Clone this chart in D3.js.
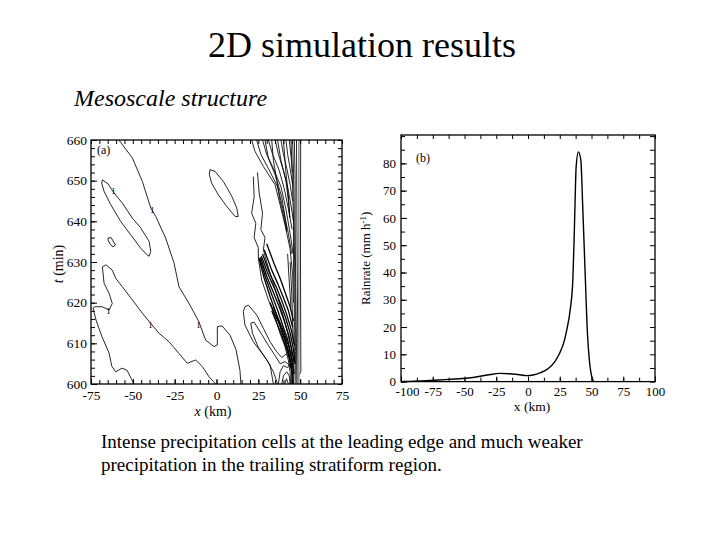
<!DOCTYPE html>
<html><head><meta charset="utf-8">
<script src="https://cdn.jsdelivr.net/npm/d3@7"></script>
<style>body{margin:0;background:#fff} svg{display:block}</style>
</head><body>
<script>
// ---------- text ----------
const titleText = "2D simulation results";
const subtitleText = "Mesoscale structure";
const captionLines = ["Intense precipitation cells at the leading edge and much weaker",
                      "precipitation in the trailing stratiform region."];

// ---------- panel (a): contour lines of rain, x (km) vs t (min) ----------
const xTicksA = [-75, -50, -25, 0, 25, 50, 75];
const tTicksA = [600, 610, 620, 630, 640, 650, 660];
const contourA = [[-58.3,660],[-50.3,655.6],[-44.3,649.8],[-39.3,643.3],[-36.3,641.2],[-30.4,635.9],[-25.4,629.8],[-22.4,623.9],[-16.4,619.8],[-10.5,615.3],[-6.5,610.8],[-1.5,609.2],[0.5,609.6],[0.5,614.1],[3.3,614.3],[8.1,612.0],[11.7,608.4],[14.0,603.4],[14.6,600]];
const contourB = [[-49.3,600],[-53.5,603.4],[-56.5,603.9],[-60.2,603.0],[-62.5,604.3],[-64.2,607.6],[-68.4,611.6],[-72.0,615.7],[-73.8,618.7],[-72.6,619.0],[-68.4,619.0],[-64.2,618.2],[-62.3,619.8],[-64.2,622.3],[-67.2,624.8],[-68.2,628.8],[-66.0,629.3],[-62.3,628.0],[-60.2,626.0],[-56.3,623.9],[-50.3,620.7],[-44.3,617.4],[-39.3,614.9],[-34.4,612.5],[-28.4,610.4],[-22.4,607.5],[-17.5,605.1],[-12.4,605.9],[-8.5,604.3],[-4.5,601.8],[-0.5,600]];
const contourD = [[-68.2,650.2],[-64.8,649.2],[-61.3,647.0],[-56.3,644.5],[-50.3,640.8],[-45.3,638.4],[-40.3,635.1],[-39.3,632.6],[-40.3,631.4],[-42.1,632.0],[-45.3,633.4],[-51.3,636.7],[-57.3,640.0],[-63.2,644.1],[-67.2,647.4],[-68.6,649.4],[-68.2,650.2]];
const contourE = [[-64.8,635.9],[-63.0,636.0],[-60.4,634.2],[-61.9,633.7],[-63.6,634.4],[-64.8,635.4],[-64.8,635.9]];
const contourF = [[-3.9,652.7],[-0.9,652.3],[4.1,649.8],[9.1,646.2],[12.1,643.3],[13.0,641.2],[11.1,641.2],[6.1,643.7],[1.1,646.5],[-2.9,649.4],[-4.3,651.5],[-3.9,652.7]];
const contourG = [[34,600],[32,604.7],[28,607.1],[22,610.4],[17,614.5],[16,617.8],[17,619],[19,619.4],[24,617],[28,613.7],[32,610.4],[36,607.9],[39,606.5],[42,607.5],[44.5,606]];
const contourG2 = [[36.5,600],[34,603],[30,606],[25,609],[21.5,612.5],[20.5,615],[22.5,615.2],[27,612.2],[31,609.5],[35,607],[38,605],[41,605.5],[44,604.5]];
const frontLines = [
  [[47.8,660],[48,645],[48.2,630],[48.5,615],[48.8,600]],
  [[46.5,660],[47,650],[47,640],[47.3,625],[47.8,610],[48,600]],
  [[45.5,660],[46,652],[46.3,645],[46.5,635],[47,620],[47.2,608],[47,600]],
  [[44.5,660],[45,655],[45.5,648],[46,640],[46,630],[46.5,618],[46.5,608],[46,600]],
  [[50.3,660],[50.2,630],[50.4,603],[49,602],[49,600]]
];
const frontGray = [[49.2,660],[49.2,600]];
const fanLines = [
  [[21,660],[23,657.2],[28,653.5],[35,649],[38,644.1],[40.9,639.2],[43.9,633.4],[45.5,627],[46,620]],
  [[24,660],[26.5,656.5],[31,653],[36.5,648.5],[39.5,643.5],[42.5,638],[45,632]],
  [[27.5,660],[30,656.5],[34,653],[38.5,648.5],[41.5,643],[44,637],[45.8,632]],
  [[31,660],[33.5,656.5],[37.5,652.5],[40.5,648],[43,643],[45.2,638]],
  [[35,660],[37,656.5],[40,652.5],[42.5,648.5],[44.5,644],[46,640]],
  [[38.5,660],[40,656.5],[42,653],[44,649],[45.5,645]],
  [[41.5,660],[42.5,656.5],[44,653],[45.5,649]],
  [[43.5,660],[44.5,656],[45.5,652]],
  [[29,660],[31,655.5],[35,651.5],[39,646],[41,641],[42,637.5],[40.5,640.5],[38,645],[36,650],[34,655],[33,660]],
  [[36.5,660],[38.5,655],[41.5,650],[43,645],[43.8,641],[43,646],[41.5,652],[40,660]],
  [[44,630],[45,622],[45.5,615],[46,610]],
  [[42.5,632],[43.5,625],[44.5,619]]
];
const zigLines = [
  [[22,651],[22.5,646],[21,642],[23.5,639.5],[22.5,636],[25,633.5],[25,631],[27,625.6],[31,620.7],[35,616.5],[38,612.4],[40.9,609.2],[42.9,605.9],[44,603],[44.2,600]],
  [[24.5,652],[25.5,647],[27.5,642],[26.5,638],[29,636],[28,633],[30,630],[33,626],[36,622],[39,618],[42,613.5],[44.5,609],[45.5,605],[45.8,600]]
];
const streakLines = [
  [[25.3,631],[28.5,626],[32,621.5],[35.5,617.5],[38.5,613.5],[41.5,610],[43.5,607],[45,604.5],[45.3,600]],
  [[25.8,631],[29.3,626.2],[33,622],[36.5,618.2],[39.5,614.5],[42.5,611],[44.3,607.5],[45.8,604.5]],
  [[26.3,631.2],[30,626.5],[34,622.5],[37.5,619],[40.5,615.5],[43.3,611.8],[45.2,608],[46.5,605]],
  [[26.8,631.5],[31,626.8],[35,623.2],[38.2,619.8],[41.3,616.3],[44,612.5],[46,608.5],[47,605]],
  [[27.5,632],[32,627],[35.8,623.8],[39,620.5],[42,617],[44.8,613.2],[46.5,609.5]],
  [[28.5,633],[33,628],[36.8,624.5],[40,621.2],[43,618],[45.5,614]],
  [[30,634.5],[34.5,629.5],[38,626],[41,622.5],[44,619],[46,615.5]],
  [[33,618],[36,615],[39,612],[42,608.5],[44,605.5],[45.5,602]],
  [[34,619],[37,616],[40,613],[43,609.5],[45,606],[46.5,602.5]],
  [[32,620],[35,617],[38,614.5],[41,611],[43,608],[44.5,604]]
];
const bottomLoops = [
  [[37,600],[38,603],[40,604.5],[42.5,604],[44,605],[45,602.5],[45,600]],
  [[39,600],[40,602],[42,603],[43.5,602],[44,600]],
  [[40.8,600],[41.8,601.3],[43,600]]
];
const contourLabels = [[-38.4,642.9],[-61.5,647.6],[-64.5,618.0],[-39.5,614.6],[-10.8,614.6]];

// ---------- panel (b): rain rate ----------
const xTicksB = [-100, -75, -50, -25, 0, 25, 50, 75, 100];
const yTicksB = [0, 10, 20, 30, 40, 50, 60, 70, 80];
const rainX = [-100,-92,-80,-70,-58,-45,-32,-22,-15,-8,-1,4,10,16,21,25,28,30.5,33.2,35.3,36.3,37.1,37.9,39.7,41.6,43.1,45,46.8,48.3,50.2,51.5];
const rainY = [0,0.1,0.3,0.6,0.95,1.4,2.4,3.0,2.9,2.6,2.2,2.4,3.3,4.8,7.2,10.5,14,18.9,26.2,37.2,51.9,66.5,78.7,84.2,81.2,64.1,39.7,17.7,7.9,1.8,0.2];

// ---------- drawing ----------
const W = 720, H = 540;
const serif = "'Liberation Serif','Times New Roman',Times,serif";
const fmt = d => String(d);
const svg = d3.select("body").append("svg").attr("width", W).attr("height", H)
  .style("font-family", serif);

svg.append("text").attr("x", 362).attr("y", 57).attr("text-anchor", "middle")
  .style("font-family", serif).style("font-size", "36px").text(titleText);
svg.append("text").attr("x", 74).attr("y", 106).style("font-style", "italic")
  .style("font-family", serif).style("font-size", "24px").text(subtitleText);
captionLines.forEach((t, i) => {
  svg.append("text").attr("x", 101).attr("y", 448 + i * 23)
    .style("font-family", serif).style("font-size", "19px").text(t);
});

function styleAxis(g, fs) {
  g.select(".domain").remove();
  g.selectAll("line").attr("stroke", "#000").attr("stroke-width", 1);
  g.selectAll("text").style("font-family", serif).style("font-size", fs + "px").attr("fill", "#000");
  return g;
}

// ---- panel a ----
const pa = {l: 91, r: 342, t: 140, b: 384};
const xA = d3.scaleLinear().domain([-75, 75]).range([pa.l, pa.r]);
const yA = d3.scaleLinear().domain([600, 660]).range([pa.b, pa.t]);
const ga = svg.append("g");
const clipA = svg.append("clipPath").attr("id", "clipA");
clipA.append("rect").attr("x", pa.l).attr("y", pa.t).attr("width", pa.r - pa.l).attr("height", pa.b - pa.t);

const lineA = d3.line().x(d => xA(d[0])).y(d => yA(d[1]));
const cg = ga.append("g").attr("clip-path", "url(#clipA)").attr("fill", "none")
  .attr("stroke", "#000").attr("stroke-width", 0.85).attr("stroke-linejoin", "round");
const allContours = [contourA, contourB, contourD, contourE, contourF, contourG, contourG2]
  .concat(frontLines, fanLines, zigLines, bottomLoops);
cg.selectAll("path.c").data(allContours).enter().append("path").attr("class", "c").attr("d", lineA);
cg.append("path").attr("d", lineA(frontGray)).attr("stroke", "#999").attr("stroke-width", 1.6);
cg.selectAll("path.s").data(streakLines).enter().append("path").attr("class", "s")
  .attr("d", lineA).attr("stroke-width", 1.3);

ga.selectAll("text.lab").data(contourLabels).enter().append("text").attr("class", "lab")
  .attr("x", d => xA(d[0])).attr("y", d => yA(d[1])).attr("dy", "0.35em")
  .attr("text-anchor", "middle").attr("fill", "#000").style("font-size", "9px").text("1");

// axes a
styleAxis(ga.append("g").attr("transform", `translate(0,${pa.b})`)
  .call(d3.axisBottom(xA).tickValues(xTicksA).tickSize(-5).tickPadding(6).tickFormat(fmt)), 13.5);
styleAxis(ga.append("g").attr("transform", `translate(0,${pa.b})`)
  .call(d3.axisBottom(xA).tickValues(d3.range(-75, 76, 5)).tickSize(-4).tickFormat("")), 13);
styleAxis(ga.append("g").attr("transform", `translate(0,${pa.t})`)
  .call(d3.axisTop(xA).tickValues(d3.range(-75, 76, 5)).tickSize(-4).tickFormat("")), 13);
styleAxis(ga.append("g").attr("transform", `translate(${pa.l},0)`)
  .call(d3.axisLeft(yA).tickValues(tTicksA).tickSize(-6).tickPadding(4).tickFormat(fmt)), 13.5);
styleAxis(ga.append("g").attr("transform", `translate(${pa.l},0)`)
  .call(d3.axisLeft(yA).tickValues(d3.range(600, 661, 2)).tickSize(-4).tickFormat("")), 13);
styleAxis(ga.append("g").attr("transform", `translate(${pa.r},0)`)
  .call(d3.axisRight(yA).tickValues(d3.range(600, 661, 2)).tickSize(-4).tickFormat("")), 13);
ga.append("rect").attr("x", pa.l).attr("y", pa.t).attr("width", pa.r - pa.l).attr("height", pa.b - pa.t)
  .attr("fill", "none").attr("stroke", "#000").attr("stroke-width", 1.3);

ga.append("text").attr("x", pa.l + 6).attr("y", pa.t + 14).style("font-size", "12px").text("(a)");
const tl = ga.append("text").attr("transform", `translate(63,${(pa.t + pa.b) / 2 + 2}) rotate(-90)`)
  .attr("text-anchor", "middle").style("font-size", "14px");
tl.append("tspan").style("font-style", "italic").text("t");
tl.append("tspan").text(" (min)");
const xl = ga.append("text").attr("x", 213).attr("y", 416).attr("text-anchor", "middle").style("font-size", "14px");
xl.append("tspan").style("font-style", "italic").text("x");
xl.append("tspan").text(" (km)");

// ---- panel b ----
const pb = {l: 401, r: 655, t: 135, b: 381.6};
const xB = d3.scaleLinear().domain([-100, 100]).range([pb.l, pb.r]);
const yB = d3.scaleLinear().domain([0, 90.4]).range([pb.b, pb.t]);
const gb = svg.append("g");
const rain = d3.zip(rainX, rainY);
gb.append("path").datum(rain)
  .attr("d", d3.line().x(d => xB(d[0])).y(d => yB(d[1])).curve(d3.curveMonotoneX))
  .attr("fill", "none").attr("stroke", "#000").attr("stroke-width", 1.4);

const bx = styleAxis(gb.append("g").attr("transform", `translate(0,${pb.b})`)
  .call(d3.axisBottom(xB).tickValues(xTicksB).tickSize(-5).tickPadding(5).tickFormat(fmt)), 13);
bx.selectAll("text").filter(d => d === -100).attr("dx", 6);
styleAxis(gb.append("g").attr("transform", `translate(0,${pb.b})`)
  .call(d3.axisBottom(xB).tickValues(d3.range(-100, 101, 12.5)).tickSize(-4).tickFormat("")), 12);
styleAxis(gb.append("g").attr("transform", `translate(0,${pb.t})`)
  .call(d3.axisTop(xB).tickValues(d3.range(-100, 101, 12.5)).tickSize(-4).tickFormat("")), 12);
styleAxis(gb.append("g").attr("transform", `translate(${pb.l},0)`)
  .call(d3.axisLeft(yB).tickValues(yTicksB).tickSize(-6).tickPadding(5).tickFormat(fmt)), 13);
styleAxis(gb.append("g").attr("transform", `translate(${pb.l},0)`)
  .call(d3.axisLeft(yB).tickValues(d3.range(0, 91, 5)).tickSize(-4).tickFormat("")), 12);
styleAxis(gb.append("g").attr("transform", `translate(${pb.r},0)`)
  .call(d3.axisRight(yB).tickValues(d3.range(0, 91, 5)).tickSize(-5).tickFormat("")), 12);
gb.append("rect").attr("x", pb.l).attr("y", pb.t).attr("width", pb.r - pb.l).attr("height", pb.b - pb.t)
  .attr("fill", "none").attr("stroke", "#000").attr("stroke-width", 1.3);

gb.append("text").attr("x", pb.l + 15).attr("y", pb.t + 27).style("font-size", "12px").text("(b)");
const rl = gb.append("text").attr("transform", `translate(370,${(pb.t + pb.b) / 2}) rotate(-90)`)
  .attr("text-anchor", "middle").style("font-size", "13px");
rl.append("tspan").text("Rainrate (mm h");
rl.append("tspan").attr("dy", -4).style("font-size", "9px").text("-1");
rl.append("tspan").attr("dy", 4).text(")");
gb.append("text").attr("x", 532).attr("y", 411).attr("text-anchor", "middle")
  .style("font-size", "13.5px").text("x (km)");
</script>
</body></html>
